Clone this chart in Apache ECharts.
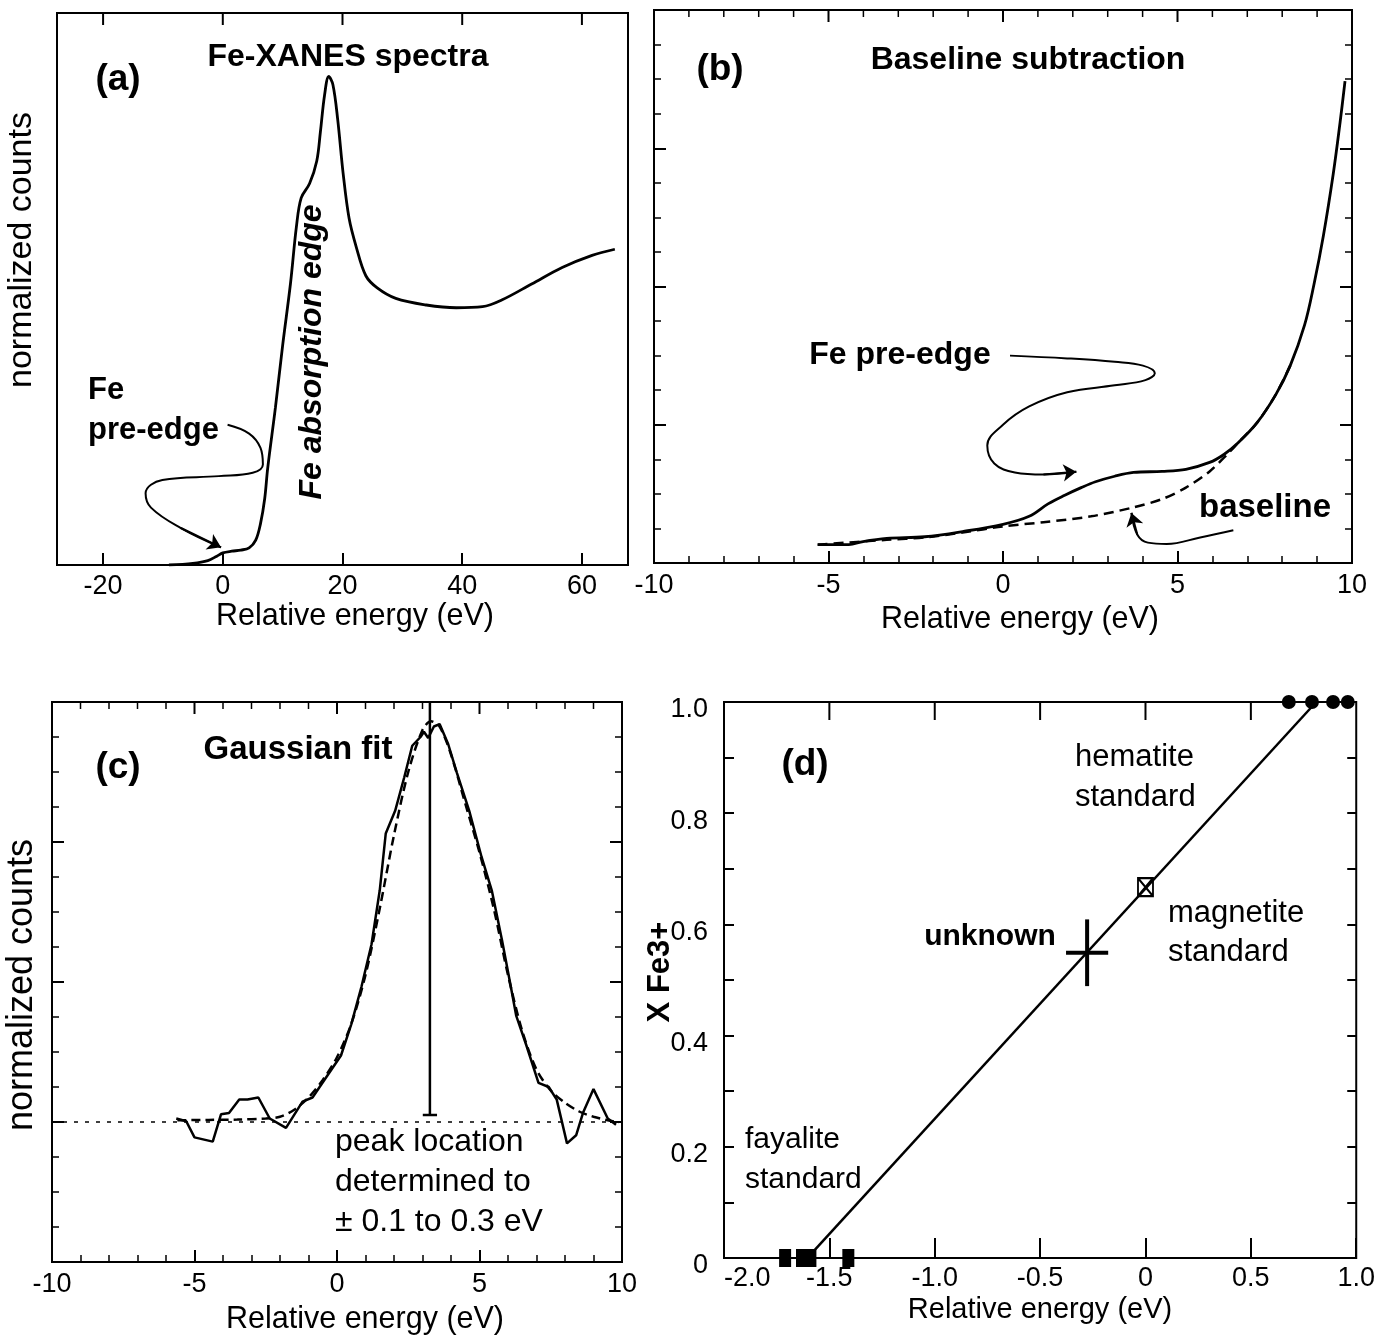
<!DOCTYPE html>
<html>
<head>
<meta charset="utf-8">
<title>Fe-XANES pre-edge analysis</title>
<script src="https://cdn.jsdelivr.net/npm/echarts@6/dist/echarts.min.js"></script>
<style>
  html, body { margin: 0; padding: 0; background: #fff; }
  #chart { width: 1378px; height: 1339px; }
</style>
</head>
<body>
<div id="chart"></div>
<script>
// ---- (a) Fe-XANES spectrum (counts as fraction of frame height) ----
const aEnergy = [-9, -5, -2.5, -1, 0, 1.5, 3, 4.4, 5.5, 6.3, 7.0, 7.5, 8.8, 10.0, 11.3, 12.3, 13.1, 14.5, 15.7, 16.3, 17.0, 17.7, 18.4, 19.2, 20.1, 21.1, 22.3, 23.9, 25.8, 28.9, 34.0, 39.0, 43.4, 46.6, 51.6, 56.7, 61.7, 65.5];
const aCounts = [0.0, 0.003, 0.008, 0.016, 0.022, 0.025, 0.027, 0.031, 0.045, 0.075, 0.12, 0.175, 0.286, 0.398, 0.509, 0.613, 0.665, 0.691, 0.732, 0.784, 0.851, 0.885, 0.870, 0.807, 0.710, 0.628, 0.576, 0.524, 0.502, 0.483, 0.471, 0.466, 0.468, 0.480, 0.509, 0.539, 0.561, 0.572];
const aTicks = [-20, 0, 20, 40, 60];
// pointer from the "pre-edge" label
const aArrowE = [0.8, 4.4, 6.3, 6.7, 5.0, -0.65, -10.1, -12.9, -12.0, -7.0, -0.3];
const aArrowC = [0.254, 0.238, 0.212, 0.182, 0.167, 0.161, 0.154, 0.130, 0.104, 0.067, 0.032];

// ---- (b) baseline subtraction ----
const bEnergy = [-5.31, -4.42, -4.01, -3.33, -2.24, -1.16, 0, 0.75, 1.29, 1.77, 2.24, 2.65, 3.20, 3.74, 4.56, 5.24, 5.92, 6.33, 6.73, 7.28, 7.82, 8.23, 8.64, 8.91, 9.18, 9.46, 9.66, 9.80];
const bCounts = [0.53, 0.53, 0.62, 0.71, 0.76, 0.91, 1.12, 1.35, 1.71, 1.96, 2.18, 2.35, 2.51, 2.62, 2.65, 2.71, 2.91, 3.14, 3.47, 4.06, 4.88, 5.71, 6.88, 8.06, 9.47, 11.24, 12.76, 13.94];
const bBaseEnergy = [-5.31, -3.33, -2.24, -1.16, 0, 1.16, 2.52, 3.74, 4.56, 5.24, 5.92, 6.46, 6.73, 7.28, 7.82, 8.23];
const bBaseCounts = [0.53, 0.67, 0.74, 0.88, 1.06, 1.18, 1.35, 1.61, 1.85, 2.18, 2.65, 3.18, 3.47, 4.06, 4.88, 5.71];
const bArrowE = [0.2, 1.84, 3.20, 4.01, 4.35, 4.08, 3.20, 1.84, 0.75, 0, -0.45, -0.25, 0.34, 1.16, 2.1];
const bArrowC = [6.0, 5.92, 5.82, 5.71, 5.49, 5.29, 5.14, 4.94, 4.53, 4.0, 3.4, 2.88, 2.62, 2.56, 2.64];
const bBaseArrowE = [6.6, 5.65, 4.69, 4.15, 3.85, 3.68];
const bBaseArrowC = [0.95, 0.74, 0.55, 0.59, 0.82, 1.45];
const bcMajorTicks = [-5, 0, 5];
const bcMinorTicks = [-9, -8, -7, -6, -4, -3, -2, -1, 1, 2, 3, 4, 6, 7, 8, 9];

// ---- (c) gaussian fit of the pre-edge ----
const cEnergy = [-5.64, -5.29, -5.0, -4.36, -4.07, -3.79, -3.43, -3.14, -2.76, -2.36, -1.79, -1.21, -0.86, -0.36, 0.14, 0.5, 0.86, 1.21, 1.5, 1.71, 2.04, 2.36, 2.64, 2.93, 3.05, 3.2, 3.4, 3.6, 3.9, 4.21, 4.64, 5.07, 5.43, 5.79, 6.07, 6.29, 6.64, 7.07, 7.43, 7.71, 8.07, 8.39, 8.64, 9.0, 9.5, 9.79];
const cCounts = [4.10, 4.02, 3.56, 3.44, 4.22, 4.26, 4.64, 4.64, 4.70, 4.10, 3.83, 4.58, 4.70, 5.30, 5.90, 6.79, 7.87, 9.07, 10.62, 12.24, 12.89, 13.85, 14.75, 15.0, 15.15, 14.97, 15.3, 15.37, 14.8, 13.97, 12.89, 11.58, 10.62, 9.19, 7.99, 7.03, 6.20, 5.12, 5.0, 4.64, 3.39, 3.62, 4.28, 4.94, 4.10, 3.92];
const cFitEnergy = [-5.6, -4.5, -3.5, -2.5, -2.0, -1.5, -1.0, -0.5, 0, 0.5, 1.0, 1.5, 2.0, 2.5, 3.0, 3.3, 3.6, 4.0, 4.5, 5.0, 5.5, 6.0, 6.5, 7.0, 7.5, 8.0, 8.5, 9.0, 9.5, 9.9];
const cFitCounts = [4.05, 4.06, 4.07, 4.10, 4.15, 4.35, 4.7, 5.2, 5.85, 6.8, 8.2, 10.1, 12.2, 14.0, 15.2, 15.45, 15.3, 14.5, 13.1, 11.7, 10.1, 8.2, 6.6, 5.5, 4.9, 4.55, 4.3, 4.15, 4.05, 3.98];
const cBaseline = 4.0;
const cPeak = [3.26, 4.2, 16]; // energy, cap level, top

// ---- (d) calibration: X Fe3+ vs energy ----
const dFayalite = [-1.71, -1.63, -1.59, -1.41];
const dHematite = [0.68, 0.79, 0.89, 0.96];
const dMagnetite = [0.0, 0.667];
const dUnknown = [-0.277, 0.549, 0.1, 0.06]; // x, y, x error, y error
const dFitEnergy = [-1.58, 0.81];
const dFitX = [0.01, 1.0];
const dTopTicks = [-1.5, -1.0, -0.5, 0, 0.5];

const FONT = '"Liberation Sans", Arial, Helvetica, sans-serif';
const BLACK = '#000';

// panel frames (pixels)
const GA = { left: 57, top: 13, width: 571, height: 552 };
const GB = { left: 654, top: 10, width: 698, height: 553 };
const GC = { left: 52, top: 702, width: 570, height: 560 };
const GD = { left: 724, top: 702, width: 641, height: 556 };

const zip = (xs, ys) => xs.map((x, i) => [x, ys[i]]);

function txt(text, x, y, opt) {
  opt = opt || {};
  return {
    type: 'text', x: x, y: y, rotation: opt.rot || 0, z: 100,
    style: {
      text: text, fill: BLACK, fontFamily: FONT,
      fontSize: opt.size || 32, fontWeight: opt.bold ? 'bold' : 'normal',
      fontStyle: opt.italic ? 'italic' : 'normal',
      align: opt.align || 'center', verticalAlign: 'middle',
      textAlign: opt.align || 'center', textVerticalAlign: 'middle'
    }
  };
}

function labelStyle(extra) {
  return Object.assign({ color: BLACK, fontSize: 27, fontFamily: FONT }, extra || {});
}

const noLine = { show: false, onZero: false };

// hidden-label axis used only to put ticks on the right of a frame
function mirrorY(grid, base, tick, minor) {
  return Object.assign({}, base, {
    gridIndex: grid, position: 'right',
    axisLine: noLine, axisLabel: { show: false },
    axisTick: Object.assign({ inside: true, lineStyle: { color: BLACK, width: 2 } }, tick),
    minorTick: minor || { show: false },
    splitLine: { show: false }
  });
}

// ticks hanging down from the top edge of a frame, drawn as one group
// (same pattern as the peak marker, which renders fine)
function topTickSeries(xi, yi, yMax, major, minor, majorLen, minorLen) {
  return {
    type: 'custom', xAxisIndex: xi, yAxisIndex: yi, silent: true, clip: false, z: 5,
    data: [[major[0], yMax]],
    renderItem: function (params, api) {
      const top = api.value(1);
      const children = [];
      major.forEach(v => {
        const p = api.coord([v, top]);
        children.push({ type: 'line', shape: { x1: p[0], y1: p[1], x2: p[0], y2: p[1] + majorLen }, style: { stroke: BLACK, lineWidth: 2 } });
      });
      (minor || []).forEach(v => {
        const p = api.coord([v, top]);
        children.push({ type: 'line', shape: { x1: p[0], y1: p[1], x2: p[0], y2: p[1] + minorLen }, style: { stroke: BLACK, lineWidth: 1.5 } });
      });
      return { type: 'group', children: children };
    }
  };
}

const frame = { show: true, borderColor: BLACK, borderWidth: 2, backgroundColor: 'transparent' };

const bcX = { type: 'value', min: -10, max: 10, interval: 5 };
const bcY = { type: 'value', min: 0, max: 16, interval: 4 };
const dY = { type: 'value', min: 0, max: 1, interval: 0.2 };
const fmt1 = v => (v === 0 ? '0' : v.toFixed(1));

const bcMinorX = { show: true, splitNumber: 5, length: 7, lineStyle: { color: BLACK, width: 1.5 } };
const bcMinorY = { show: true, splitNumber: 4, length: 7, lineStyle: { color: BLACK, width: 1.5 } };
const dMinorY = { show: true, splitNumber: 2, length: 10, lineStyle: { color: BLACK, width: 2 } };

function lineSeries(x, y, data, style, extra) {
  return Object.assign({
    type: 'line', xAxisIndex: x, yAxisIndex: y, data: data,
    showSymbol: false, symbol: 'none', silent: true,
    lineStyle: Object.assign({ color: BLACK, width: 2.5 }, style)
  }, extra || {});
}

// the arrow head: last segment of a pointer path
function arrowHead(x, y, es, cs) {
  const n = es.length;
  return {
    type: 'lines', coordinateSystem: 'cartesian2d', xAxisIndex: x, yAxisIndex: y,
    symbol: ['none', 'arrow'], symbolSize: 13, silent: true,
    lineStyle: { color: BLACK, width: 2, opacity: 1 },
    data: [{ coords: [[es[n - 2], cs[n - 2]], [es[n - 1], cs[n - 1]]] }]
  };
}

const texts = [
  // (a)
  txt('(a)', 118, 80, { bold: true, size: 37 }),
  txt('Fe-XANES spectra', 348, 57, { bold: true }),
  txt('Fe absorption edge', 312, 352, { bold: true, italic: true, size: 32, rot: Math.PI / 2 }),
  txt('Fe', 88, 390, { bold: true, size: 31, align: 'left' }),
  txt('pre-edge', 88, 430, { bold: true, size: 31, align: 'left' }),
  txt('normalized counts', 22, 250, { size: 34, rot: Math.PI / 2 }),
  txt('Relative energy (eV)', 355, 617, { size: 30.5 }),
  // (b)
  txt('(b)', 720, 70, { bold: true, size: 37 }),
  txt('Baseline subtraction', 1028, 60, { bold: true }),
  txt('Fe pre-edge', 900, 355, { bold: true }),
  txt('baseline', 1265, 508, { bold: true, size: 33 }),
  txt('Relative energy (eV)', 1020, 620, { size: 30.5 }),
  // (c)
  txt('(c)', 118, 768, { bold: true, size: 37 }),
  txt('Gaussian fit', 298, 750, { bold: true, size: 33 }),
  txt('peak location', 335, 1142, { align: 'left' }),
  txt('determined to', 335, 1182, { align: 'left' }),
  txt('\u00b1 0.1 to 0.3 eV', 335, 1222, { align: 'left' }),
  txt('normalized counts', 22, 985, { size: 36, rot: Math.PI / 2 }),
  txt('Relative energy (eV)', 365, 1320, { size: 30.5 }),
  // (d)
  txt('(d)', 805, 765, { bold: true, size: 37 }),
  txt('hematite', 1075, 757, { size: 31, align: 'left' }),
  txt('standard', 1075, 797, { size: 31, align: 'left' }),
  txt('magnetite', 1168, 913, { size: 31, align: 'left' }),
  txt('standard', 1168, 952, { size: 31, align: 'left' }),
  txt('unknown', 990, 937, { bold: true, size: 30 }),
  txt('fayalite', 745, 1140, { size: 30, align: 'left' }),
  txt('standard', 745, 1180, { size: 30, align: 'left' }),
  txt('X Fe3+', 660, 972, { bold: true, size: 31, rot: Math.PI / 2 }),
  txt('Relative energy (eV)', 1040, 1310, { size: 29 })
];

const chart = echarts.init(document.getElementById('chart'), null, { renderer: 'canvas' });

chart.setOption({
  animation: false,
  backgroundColor: '#fff',
  grid: [
    Object.assign({}, GA, frame),
    Object.assign({}, GB, frame),
    Object.assign({}, GC, frame),
    Object.assign({}, GD, frame)
  ],
  xAxis: [
    {
      type: 'value', min: -27.7, max: 67.7,
      gridIndex: 0, position: 'bottom', axisLine: noLine,
      axisTick: { inside: true, length: 12, customValues: aTicks, lineStyle: { color: BLACK, width: 2 } },
      axisLabel: labelStyle({ customValues: aTicks, margin: 8 }),
      splitLine: { show: false }
    },
    Object.assign({}, bcX, {
      gridIndex: 1, position: 'bottom', axisLine: noLine,
      axisTick: { inside: true, length: 12, lineStyle: { color: BLACK, width: 2 } },
      minorTick: bcMinorX,
      axisLabel: labelStyle({ margin: 9 }),
      splitLine: { show: false }
    }),
    Object.assign({}, bcX, {
      gridIndex: 2, position: 'bottom', axisLine: noLine,
      axisTick: { inside: true, length: 12, lineStyle: { color: BLACK, width: 2 } },
      minorTick: bcMinorX,
      axisLabel: labelStyle({ margin: 9 }),
      splitLine: { show: false }
    }),
    {
      type: 'value', min: -2, max: 1, interval: 0.5,
      gridIndex: 3, position: 'bottom', axisLine: noLine,
      axisTick: { inside: true, length: 20, lineStyle: { color: BLACK, width: 2 } },
      axisLabel: labelStyle({ margin: 7, formatter: fmt1, alignMinLabel: 'left' }),
      splitLine: { show: false }
    }
  ],
  yAxis: [
    { type: 'value', gridIndex: 0, min: 0, max: 1, axisLine: noLine, axisTick: { show: false }, axisLabel: { show: false }, splitLine: { show: false } },
    Object.assign({}, bcY, {
      gridIndex: 1, position: 'left', axisLine: noLine, axisLabel: { show: false },
      axisTick: { inside: true, length: 12, lineStyle: { color: BLACK, width: 2 } },
      minorTick: bcMinorY, splitLine: { show: false }
    }),
    mirrorY(1, bcY, { length: 12 }, bcMinorY),
    Object.assign({}, bcY, {
      gridIndex: 2, position: 'left', axisLine: noLine, axisLabel: { show: false },
      axisTick: { inside: true, length: 12, lineStyle: { color: BLACK, width: 2 } },
      minorTick: bcMinorY, splitLine: { show: false }
    }),
    mirrorY(2, bcY, { length: 12 }, bcMinorY),
    Object.assign({}, dY, {
      gridIndex: 3, position: 'left', axisLine: noLine,
      axisTick: { inside: true, length: 10, lineStyle: { color: BLACK, width: 2 } },
      minorTick: dMinorY,
      axisLabel: labelStyle({ margin: 16, formatter: fmt1, verticalAlign: 'top', lineHeight: 16 }),
      splitLine: { show: false }
    }),
    mirrorY(3, dY, { length: 9 }, Object.assign({}, dMinorY, { length: 9 }))
  ],
  series: [
    // (a)
    topTickSeries(0, 0, 1, aTicks, null, 12, 0),
    lineSeries(0, 0, zip(aEnergy, aCounts), { width: 2.8 }, { smooth: 0.35 }),
    lineSeries(0, 0, zip(aArrowE, aArrowC), { width: 2 }, { smooth: 0.4 }),
    arrowHead(0, 0, aArrowE, aArrowC),
    // (b)
    topTickSeries(1, 1, 16, bcMajorTicks, bcMinorTicks, 12, 7),
    lineSeries(1, 1, zip(bBaseEnergy, bBaseCounts), { type: [10, 6], width: 2.5 }, { smooth: 0.3 }),
    lineSeries(1, 1, zip(bEnergy, bCounts), { width: 2.8 }, { smooth: 0.35 }),
    lineSeries(1, 1, zip(bArrowE, bArrowC), { width: 2 }, { smooth: 0.4 }),
    arrowHead(1, 1, bArrowE, bArrowC),
    lineSeries(1, 1, zip(bBaseArrowE, bBaseArrowC), { width: 2 }, { smooth: 0.4 }),
    arrowHead(1, 1, bBaseArrowE, bBaseArrowC),
    // (c)
    topTickSeries(2, 3, 16, bcMajorTicks, bcMinorTicks, 12, 7),
    lineSeries(2, 3, [[-10, cBaseline], [10, cBaseline]], { type: [4, 7], width: 1.5 }),
    lineSeries(2, 3, zip(cFitEnergy, cFitCounts), { type: [9, 5], width: 2.5 }, { smooth: 0.3 }),
    lineSeries(2, 3, zip(cEnergy, cCounts), { width: 2.5 }),
    {
      type: 'custom', xAxisIndex: 2, yAxisIndex: 3, silent: true, data: [cPeak],
      renderItem: function (params, api) {
        const e = api.value(0);
        const top = api.coord([e, api.value(2)]);
        const bot = api.coord([e, api.value(1)]);
        const l = api.coord([e - 0.25, api.value(1)]);
        const r = api.coord([e + 0.25, api.value(1)]);
        const st = { stroke: BLACK, lineWidth: 2.5 };
        return {
          type: 'group', children: [
            { type: 'line', shape: { x1: top[0], y1: top[1], x2: bot[0], y2: bot[1] }, style: st },
            { type: 'line', shape: { x1: l[0], y1: l[1], x2: r[0], y2: r[1] }, style: st }
          ]
        };
      }
    },
    // (d)
    topTickSeries(3, 5, 1, dTopTicks, null, 18, 0),
    lineSeries(3, 5, zip(dFitEnergy, dFitX), { width: 2.5 }),
    {
      type: 'scatter', xAxisIndex: 3, yAxisIndex: 5, clip: false, silent: true,
      symbol: 'rect', symbolSize: [12, 18], itemStyle: { color: BLACK, opacity: 1 },
      data: dFayalite.map(e => [e, 0])
    },
    {
      type: 'scatter', xAxisIndex: 3, yAxisIndex: 5, clip: false, silent: true,
      symbol: 'circle', symbolSize: 14, itemStyle: { color: BLACK, opacity: 1 },
      data: dHematite.map(e => [e, 1])
    },
    {
      type: 'scatter', xAxisIndex: 3, yAxisIndex: 5, clip: false, silent: true,
      symbol: 'path://M0,0L10,0L10,12L0,12Z M0,0L10,12 M10,0L0,12', symbolSize: [15, 18],
      itemStyle: { color: '#fff', borderColor: BLACK, borderWidth: 2, opacity: 1 },
      data: [dMagnetite]
    },
    {
      type: 'custom', xAxisIndex: 3, yAxisIndex: 5, silent: true, data: [dUnknown],
      renderItem: function (params, api) {
        const x = api.value(0), y = api.value(1), ex = api.value(2), ey = api.value(3);
        const h1 = api.coord([x - ex, y]), h2 = api.coord([x + ex, y]);
        const v1 = api.coord([x, y - ey]), v2 = api.coord([x, y + ey]);
        const st = { stroke: BLACK, lineWidth: 4 };
        return {
          type: 'group', children: [
            { type: 'line', shape: { x1: h1[0], y1: h1[1], x2: h2[0], y2: h2[1] }, style: st },
            { type: 'line', shape: { x1: v1[0], y1: v1[1], x2: v2[0], y2: v2[1] }, style: st }
          ]
        };
      }
    }
  ],
  graphic: texts
});
</script>
</body>
</html>
